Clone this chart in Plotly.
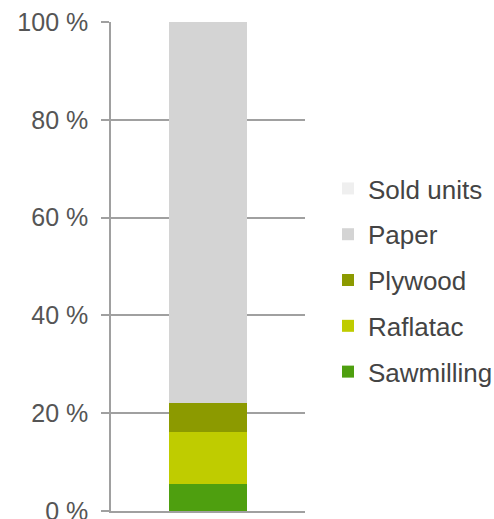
import plotly.graph_objects as go

categories = [""]
series_names = ["Sawmilling", "Raflatac", "Plywood", "Paper", "Sold units"]
series_values = [[5.6], [10.6], [5.9], [77.9], [0.0]]
series_colors = ["#4e9f0f", "#bfcc00", "#8c9a00", "#d4d4d4", "#efefef"]
tick_values = [0, 20, 40, 60, 80, 100]
tick_labels = ["0 %", "20 %", "40 %", "60 %", "80 %", "100 %"]

fig = go.Figure()
n = len(series_names)
for i, (name, vals, col) in enumerate(zip(series_names, series_values, series_colors)):
    fig.add_trace(go.Bar(x=categories, y=vals, name=name, marker=dict(color=col, line=dict(width=0)),
                         legendgroup=name, legendrank=n - i, width=0.4))

fig.update_layout(
    barmode="stack",
    width=494, height=519,
    margin=dict(l=111, r=189, t=22, b=8, autoexpand=False),
    paper_bgcolor="white", plot_bgcolor="white",
    font=dict(family="Liberation Sans, Arial, sans-serif", size=25, color="#555555"),
    showlegend=True,
    legend=dict(x=0.664, xref="container", y=0.4595, yref="container",
                xanchor="left", yanchor="middle",
                traceorder="grouped",
                tracegroupgap=9, font=dict(size=26, color="#444444"),
                bgcolor="rgba(0,0,0,0)"),
    xaxis=dict(showgrid=False, showticklabels=False, showline=True, linecolor="#a0a0a0",
               linewidth=1.5, zeroline=False, range=[-0.5, 0.5]),
    yaxis=dict(range=[0, 100], tickvals=tick_values, ticktext=tick_labels,
               showgrid=True, gridcolor="#a0a0a0", gridwidth=1.5,
               showline=True, linecolor="#a0a0a0", linewidth=1.5,
               ticks="outside", ticklen=8, tickcolor="#a0a0a0", tickwidth=1.5,
               zeroline=False, ticklabelstandoff=8, ticklabeloverflow="allow"),
)
fig.write_html("out.html")
